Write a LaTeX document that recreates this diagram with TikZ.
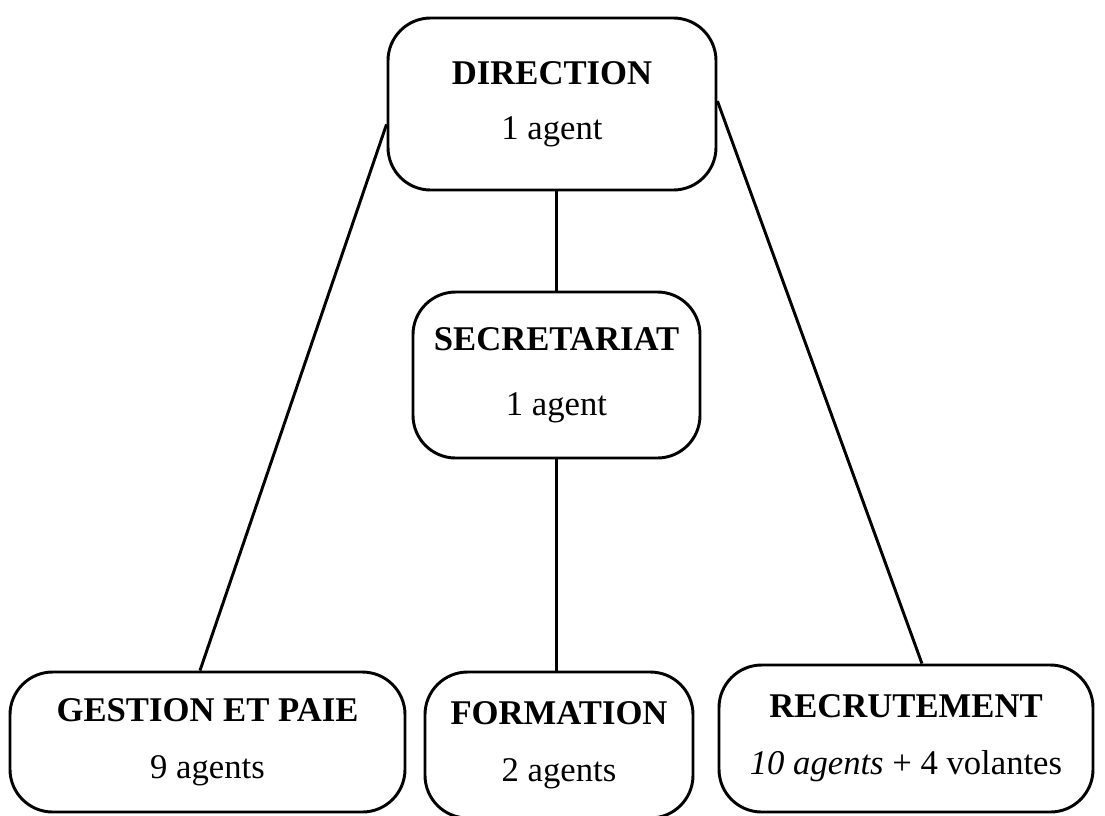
\documentclass[tikz,border=0pt]{standalone}
\usepackage{fontspec}
\setmainfont{Liberation Serif}
\usetikzlibrary{positioning}

\begin{document}
\begin{tikzpicture}[
      x=0.75pt,
      y=-0.75pt,
      unit/.style={
          rectangle,
          draw,
          line width=2.2pt,
          rounded corners=32pt,
          align=center,
          inner sep=0pt,
          font=\fontsize{26}{43}\selectfont
        },
      link/.style={
          line width=2.2pt
        }
    ]

    \useasboundingbox (0,0) rectangle (1105,815);

    % Nodes
    \node[unit, minimum width=246pt, minimum height=129pt] (direction) at (552,104) {\textbf{DIRECTION}\\[-2pt]1 agent};
    \node[unit, minimum width=215.25pt, minimum height=124.5pt] (secretariat) at (556.5,375) {\textbf{SECRETARIAT}\\[6pt]1 agent};
    \node[unit, minimum width=296.25pt, minimum height=105pt] (gestion) at (207.5,742) {\textbf{GESTION ET PAIE}\\9 agents};
    \node[unit, minimum width=201pt, minimum height=109.5pt] (formation) at (559,745) {\textbf{FORMATION}\\2 agents};
    \node[unit, minimum width=280.5pt, minimum height=110.25pt] (recrutement) at (906,738.5) {\textbf{RECRUTEMENT}\\\textit{10 agents} + 4 volantes};

    % Lines
    \draw[link] (direction.187) -- (gestion.96);
    \draw[link] (secretariat.north |- direction.south) -- (secretariat.north);
    \draw[link] (secretariat.south) -- (secretariat.south |- formation.north);
    \draw[link] (direction.1) -- (recrutement.78);

  \end{tikzpicture}
\end{document}
